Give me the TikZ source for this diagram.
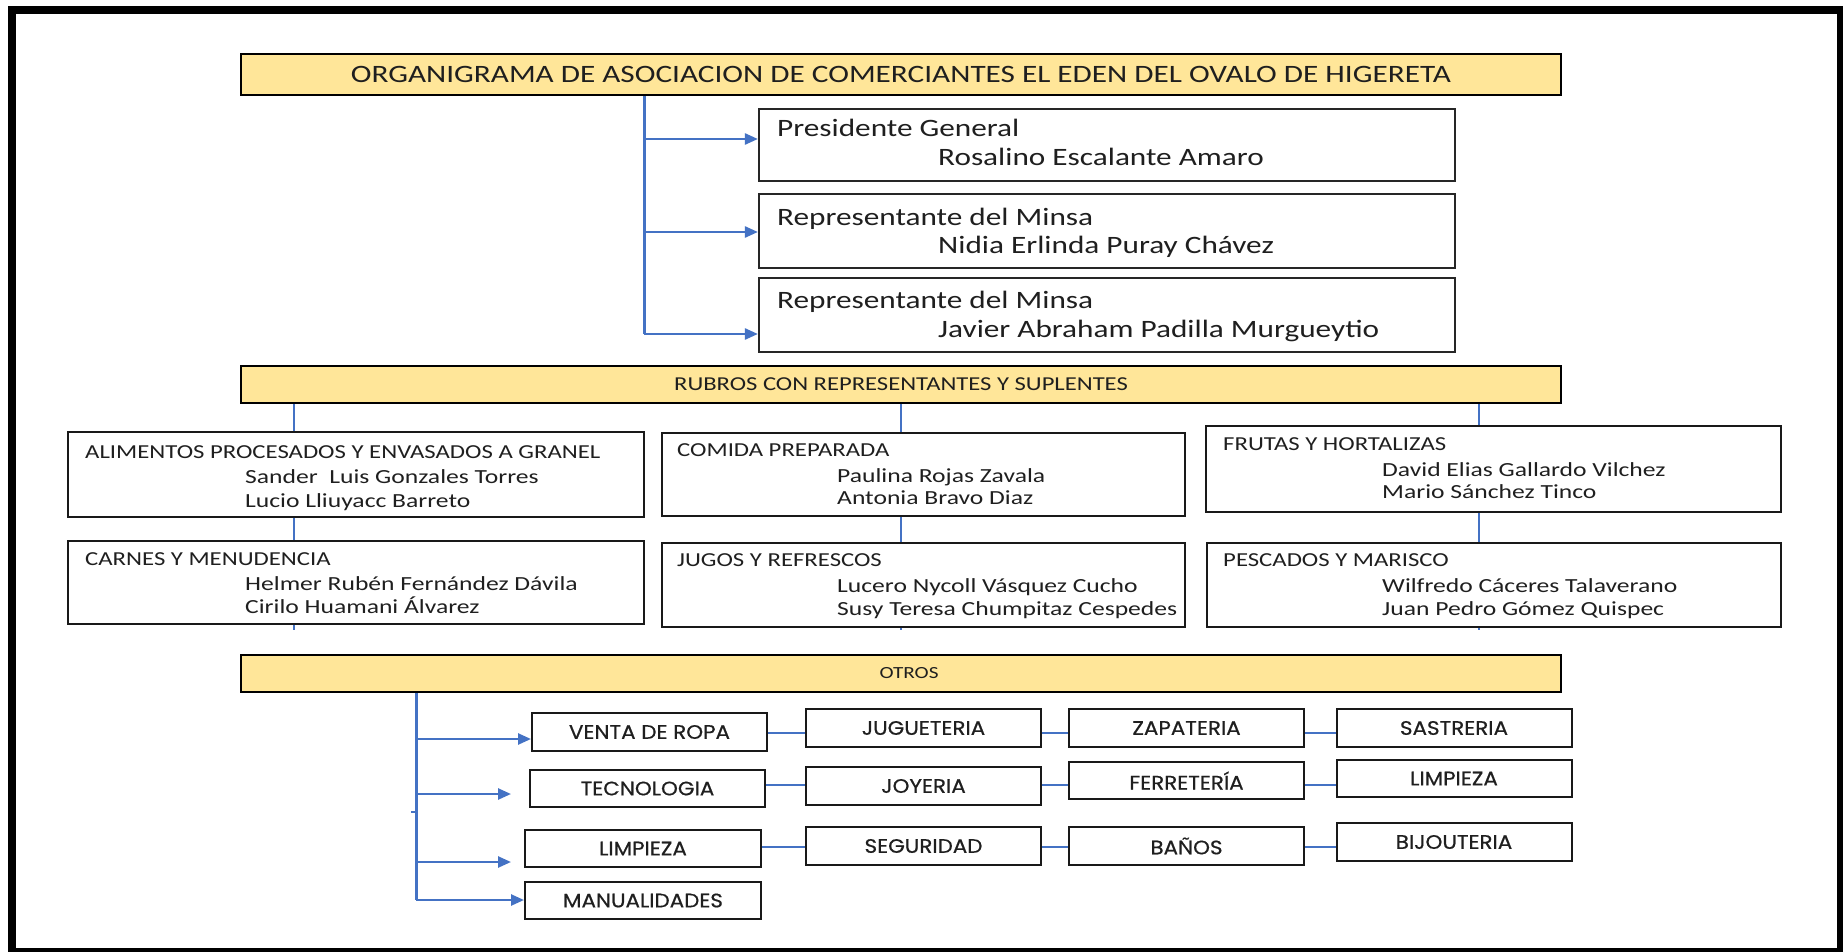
\documentclass[tikz,border=0pt]{standalone}
\usepackage{fontspec}
\setmainfont{Carlito}
\newfontfamily\wfont[FakeStretch=1.25]{Carlito}
\newfontfamily\nfont[FakeStretch=1.28]{Carlito}
\newfontfamily\pfont[FakeStretch=1.1,FakeBold=0.6]{Poppins}
\usetikzlibrary{arrows.meta,backgrounds}
\definecolor{hdrfill}{HTML}{FFE699}
\definecolor{linkblue}{HTML}{4472C4}
\definecolor{ink}{HTML}{1F1F1F}
\tikzset{
 hdrbox/.style={draw=black, line width=2.5pt, fill=hdrfill, inner sep=0pt, text=ink, minimum width=1320pt},
 perbox/.style={draw=black!85, line width=2.2pt, fill=white, inner sep=0pt, minimum width=696pt},
 catbox/.style={draw=black!90, line width=2pt, fill=white, inner sep=0pt},
 smbox/.style={draw=black!90, line width=2pt, fill=white, inner sep=0pt, text=ink, font=\pfont\fontsize{19.5}{22}\selectfont, minimum height=38pt, minimum width=235pt},
 txt/.style={anchor=base west, inner sep=0pt, text=ink},
 pertxt/.style={txt, font=\wfont\fontsize{25}{28}\selectfont},
 cattxt/.style={txt, font=\wfont\fontsize{19.8}{22}\selectfont},
 nametxt/.style={txt, font=\nfont\fontsize{20}{22}\selectfont},
 trunkln/.style={draw=linkblue, line width=3pt},
 arrln/.style={draw=linkblue, line width=2.5pt, -{Triangle[length=13pt,width=11pt]}},
 colln/.style={draw=linkblue, line width=1.6pt},
 rowln/.style={draw=linkblue, line width=2.2pt},
}
\begin{document}
\begin{tikzpicture}[x=1pt,y=-1pt]
\useasboundingbox (0,0) rectangle (1843,952);
\fill[white] (0,0) rectangle (1843,952);
\draw[line width=8pt] (12,10) rectangle (1841,952);

% ---------- header ----------
\node[hdrbox, minimum height=41pt, font=\wfont\fontsize{25}{28}\selectfont] (title) at (901,74.5)
  {ORGANIGRAMA DE ASOCIACION DE COMERCIANTES EL EDEN DEL OVALO DE HIGERETA};

\node[perbox, minimum height=72pt] (pres) at (1107,145) {};
\node[pertxt] (presA) at (777,137) {Presidente General};
\node[pertxt] (presB) at (938,166) {Rosalino Escalante Amaro};

\node[perbox, minimum height=74pt] (minA) at (1107,231) {};
\node[pertxt] (minAa) at (777,225) {Representante del Minsa};
\node[pertxt] (minAb) at (938,253) {Nidia Erlinda Puray Chávez};

\node[perbox, minimum height=74pt] (minB) at (1107,315) {};
\node[pertxt] (minBa) at (777,308) {Representante del Minsa};
\node[pertxt] (minBb) at (938,337) {Javier Abraham Padilla Murgueytio};

\coordinate (b1) at (644,139);
\coordinate (b2) at (644,232);
\coordinate (b3) at (644,334);
\draw[trunkln] (title.south -| b1) -- (b3);
\draw[arrln] (b1) -- (pres.west |- b1);
\draw[arrln] (b2) -- (minA.west |- b2);
\draw[arrln] (b3) -- (minB.west |- b3);

% ---------- rubros ----------
\node[hdrbox, minimum height=37pt, font=\wfont\fontsize{19.7}{22}\selectfont] (rubros) at (901,384.5)
  {RUBROS CON REPRESENTANTES Y SUPLENTES};

\coordinate (c1) at (294,630);
\coordinate (c2) at (901,630);
\coordinate (c3) at (1479,630);
\draw[colln] (rubros.south -| c1) -- (c1);
\draw[colln] (rubros.south -| c2) -- (c2);
\draw[colln] (rubros.south -| c3) -- (c3);

\node[catbox, minimum width=576pt, minimum height=85pt] (alim) at (356,474.5) {};
\node[cattxt] (alimA) at (85,458) {ALIMENTOS PROCESADOS Y ENVASADOS A GRANEL};
\node[nametxt] (alimB) at (245,483) {Sander\ \ Luis Gonzales Torres};
\node[nametxt] (alimC) at (245,507) {Lucio Lliuyacc Barreto};

\node[catbox, minimum width=523pt, minimum height=83pt] (comida) at (923.5,474.5) {};
\node[cattxt] (comidaA) at (677,456) {COMIDA PREPARADA};
\node[nametxt] (comidaB) at (837,482) {Paulina Rojas Zavala};
\node[nametxt] (comidaC) at (837,504) {Antonia Bravo Diaz};

\node[catbox, minimum width=575pt, minimum height=86pt] (frutas) at (1493.5,469) {};
\node[cattxt] (frutasA) at (1223,450) {FRUTAS Y HORTALIZAS};
\node[nametxt] (frutasB) at (1382,476) {David Elias Gallardo Vilchez};
\node[nametxt] (frutasC) at (1382,498) {Mario Sánchez Tinco};

\node[catbox, minimum width=576pt, minimum height=83pt] (carnes) at (356,582.5) {};
\node[cattxt] (carnesA) at (85,565) {CARNES Y MENUDENCIA};
\node[nametxt] (carnesB) at (245,590) {Helmer Rubén Fernández Dávila};
\node[nametxt] (carnesC) at (245,613) {Cirilo Huamani Álvarez};

\node[catbox, minimum width=523pt, minimum height=84pt] (jugos) at (923.5,585) {};
\node[cattxt] (jugosA) at (677,566) {JUGOS Y REFRESCOS};
\node[nametxt] (jugosB) at (837,592) {Lucero Nycoll Vásquez Cucho};
\node[nametxt] (jugosC) at (837,615) {Susy Teresa Chumpitaz Cespedes};

\node[catbox, minimum width=574pt, minimum height=84pt] (pesc) at (1494,585) {};
\node[cattxt] (pescA) at (1223,566) {PESCADOS Y MARISCO};
\node[nametxt] (pescB) at (1382,592) {Wilfredo Cáceres Talaverano};
\node[nametxt] (pescC) at (1382,615) {Juan Pedro Gómez Quispec};

% ---------- otros ----------
\node[hdrbox, minimum height=37pt, font=\wfont\fontsize{17}{20}\selectfont] (otros) at (901,673.5) {\hspace*{16pt}OTROS};

\node[smbox] (venta) at (649.5,732) {VENTA DE ROPA};
\node[smbox] (jug) at (923.5,728) {JUGUETERIA};
\node[smbox] (zap) at (1186.5,728) {ZAPATERIA};
\node[smbox] (sas) at (1454,728) {SASTRERIA};

\node[smbox, minimum height=37pt] (tec) at (647.5,788.5) {TECNOLOGIA};
\node[smbox] (joy) at (923.5,786) {JOYERIA};
\node[smbox, minimum height=37pt] (fer) at (1186.5,780.5) {FERRETERÍA};
\node[smbox, minimum height=37pt] (limB) at (1454,778.5) {LIMPIEZA};

\node[smbox, minimum height=37pt, minimum width=236pt] (limA) at (643,848.5) {LIMPIEZA};
\node[smbox] (seg) at (923.5,846) {SEGURIDAD};
\node[smbox] (ban) at (1186.5,846) {BAÑOS};
\node[smbox] (bij) at (1454,842) {BIJOUTERIA};

\node[smbox, minimum height=37pt, minimum width=236pt] (man) at (643,900.5) {MANUALIDADES};

\coordinate (r1) at (0,733);
\coordinate (r2) at (0,785);
\coordinate (r3) at (0,847);
\draw[rowln] (venta.east |- r1) -- (jug.west |- r1);
\draw[rowln] (jug.east |- r1) -- (zap.west |- r1);
\draw[rowln] (zap.east |- r1) -- (sas.west |- r1);
\draw[rowln] (tec.east |- r2) -- (joy.west |- r2);
\draw[rowln] (joy.east |- r2) -- (fer.west |- r2);
\draw[rowln] (fer.east |- r2) -- (limB.west |- r2);
\draw[rowln] (limA.east |- r3) -- (seg.west |- r3);
\draw[rowln] (seg.east |- r3) -- (ban.west |- r3);
\draw[rowln] (ban.east |- r3) -- (bij.west |- r3);

\coordinate (o1) at (416,739);
\coordinate (o2) at (416,794);
\coordinate (otick) at (416,812);
\coordinate (o3) at (416,862);
\coordinate (o4) at (416,900);
\coordinate (e2) at (511,794);
\coordinate (e3) at (511,862);
\draw[trunkln] (otros.south -| o1) -- (o4);
\draw[linkblue, line width=1.5pt] (otick) -- ++(-5,0);
\draw[arrln] (o1) -- (venta.west |- o1);
\draw[arrln] (o2) -- (e2);
\draw[arrln] (o3) -- (e3);
\draw[arrln] (o4) -- (man.west |- o4);
\end{tikzpicture}
\end{document}
